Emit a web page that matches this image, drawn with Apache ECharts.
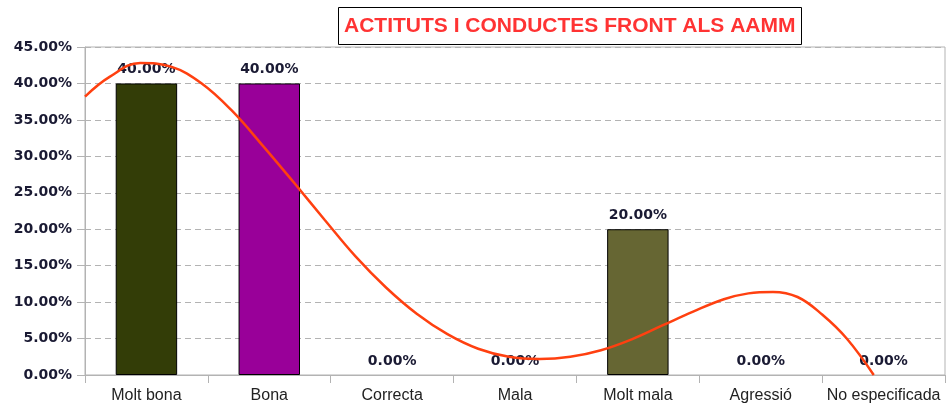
<!DOCTYPE html>
<html>
<head>
<meta charset="utf-8">
<script src="https://cdn.jsdelivr.net/npm/echarts@6/dist/echarts.min.js"></script>
<style>html,body{margin:0;padding:0;background:#fff}#c{width:949px;height:409px}</style>
</head>
<body>
<div id="c"></div>
<script>
const categories = ['Molt bona', 'Bona', 'Correcta', 'Mala', 'Molt mala', 'Agressió', 'No especificada'];
const values = [40, 40, 0, 0, 20, 0, 0];
const barColors = ['#333d07', '#990099', '#333d07', '#333d07', '#666633', '#333d07', '#333d07'];
const yTicks = [0, 5, 10, 15, 20, 25, 30, 35, 40, 45];
// trend curve: [category position, percent]
const trendX = [0, 0.2, 0.45, 0.7, 0.95, 1.2, 1.45, 1.7, 1.95, 2.2, 2.45, 2.7, 2.95, 3.2, 3.45, 3.7, 3.95, 4.2, 4.45, 4.7, 4.95, 5.2, 5.4, 5.6, 5.8, 6.0, 6.2, 6.42];
const trendY = [38.2, 40.9, 42.8, 42.3, 40.0, 36.2, 31.4, 26.4, 21.3, 16.3, 12.0, 8.4, 5.6, 3.6, 2.5, 2.2, 2.5, 3.4, 4.9, 6.8, 8.7, 10.4, 11.2, 11.4, 10.7, 8.3, 5.0, 0];
const titleText = 'ACTITUTS I CONDUCTES FRONT ALS AAMM';

const chart = echarts.init(document.getElementById('c'));
chart.setOption({
  animation: false,
  title: {
    text: titleText,
    left: 338, top: 7,
    padding: [8, 6, 8, 6],
    borderColor: '#000', borderWidth: 1,
    textStyle: { fontFamily: 'Liberation Sans', fontWeight: 'bold', fontSize: 21, color: '#ff3333', lineHeight: 22 }
  },
  grid: { left: 85, right: 4, top: 47, bottom: 34, show: true, borderColor: '#b3b3b3', borderWidth: 1 },
  xAxis: [{
    type: 'category', data: categories,
    axisLine: { lineStyle: { color: '#b3b3b3' } },
    axisTick: { show: true, interval: 0, length: 8, lineStyle: { color: '#b3b3b3' } },
    axisLabel: { interval: 0, hideOverlap: false, fontFamily: 'Liberation Sans', fontSize: 16, color: '#222', margin: 13 }
  }, {
    type: 'value', min: 0, max: 7, show: false
  }],
  yAxis: {
    type: 'value', min: yTicks[0], max: yTicks[yTicks.length - 1], interval: 5,
    axisLine: { show: true, lineStyle: { color: '#b3b3b3' } },
    axisTick: { show: true, length: 8, lineStyle: { color: '#b3b3b3' } },
    splitLine: { lineStyle: { color: '#b3b3b3', type: [6, 4] } },
    axisLabel: {
      fontFamily: 'DejaVu Sans', fontWeight: 'bold', fontSize: 14, color: '#1a1a33', margin: 13,
      formatter: v => v.toFixed(2) + '%'
    }
  },
  series: [{
    type: 'bar', barWidth: '50%',
    data: values.map((v, i) => ({ value: v, itemStyle: { color: barColors[i], borderWidth: v === 0 ? 0 : 1 } })),
    itemStyle: { borderColor: '#000' },
    label: {
      show: true, position: 'top', distance: 7,
      fontFamily: 'DejaVu Sans', fontWeight: 'bold', fontSize: 14, color: '#1a1a33',
      formatter: p => p.value.toFixed(2) + '%'
    }
  }, {
    type: 'line', xAxisIndex: 1, smooth: 0.4, symbol: 'none',
    data: trendX.map((x, i) => [x, trendY[i]]),
    lineStyle: { color: '#ff4010', width: 2.5 },
    z: 5
  }]
});
</script>
</body>
</html>
